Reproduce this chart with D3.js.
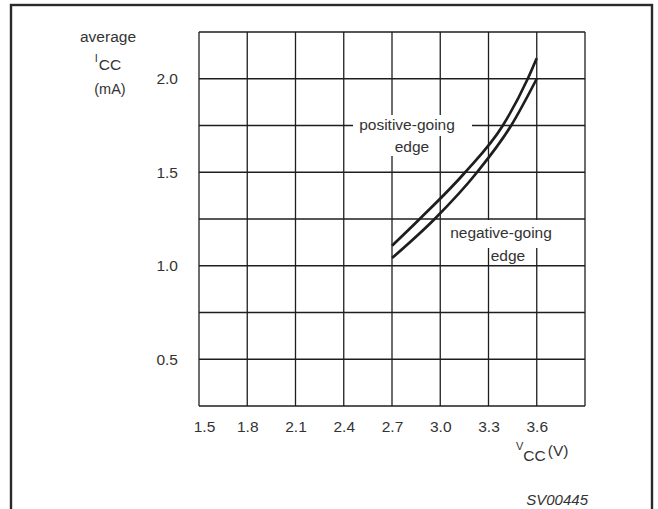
<!DOCTYPE html>
<html>
<head>
<meta charset="utf-8">
<script src="https://cdn.jsdelivr.net/npm/d3@7"></script>
<style>
  html, body { margin: 0; padding: 0; background: #fff; }
  svg { display: block; }
  text { font-family: "Liberation Sans", Arial, sans-serif; fill: #333; }
</style>
</head>
<body>
<svg id="chart" width="658" height="509"></svg>
<script>
// ---- data ----
const xTickValues = [1.5, 1.8, 2.1, 2.4, 2.7, 3.0, 3.3, 3.6];
const xGridValues = [1.5, 1.8, 2.1, 2.4, 2.7, 3.0, 3.3, 3.6, 3.9];
const yTickValues = [0.5, 1.0, 1.5, 2.0];
const yGridValues = [0.25, 0.5, 0.75, 1.0, 1.25, 1.5, 1.75, 2.0, 2.25];
const vccPositiveGoing = [2.7, 2.872, 3.155, 3.389, 3.544, 3.6];
const iccPositiveGoing = [1.107, 1.25, 1.5, 1.75, 2.0, 2.11];
const vccNegativeGoing = [2.7, 2.965, 3.229, 3.441, 3.6];
const iccNegativeGoing = [1.041, 1.25, 1.5, 1.75, 2.0];
const seriesLabels = ["positive-going", "negative-going"];

// ---- layout ----
const svg = d3.select("#chart");
const plot = { left: 199, right: 585, top: 32, bottom: 406 };
const x = d3.scaleLinear().domain([1.5, 3.9]).range([plot.left, plot.right]);
const y = d3.scaleLinear().domain([0.25, 2.25]).range([plot.bottom, plot.top]);
const ink = "#1e1e1e";
const fs = 15.5;

// outer frame (bottom edge lies outside the picture)
svg.append("rect")
  .attr("x", 11).attr("y", 5).attr("width", 641).attr("height", 540)
  .attr("fill", "none").attr("stroke", "#2a2a2a").attr("stroke-width", 2.4);

// grid
const grid = svg.append("g").attr("stroke", ink).attr("stroke-width", 1.3);
grid.selectAll("line.v").data(xGridValues).join("line")
  .attr("x1", d => x(d)).attr("x2", d => x(d))
  .attr("y1", plot.top).attr("y2", plot.bottom);
grid.selectAll("line.h").data(yGridValues).join("line")
  .attr("x1", plot.left).attr("x2", plot.right)
  .attr("y1", d => y(d)).attr("y2", d => y(d));

// axes (labels only)
const xAxis = svg.append("g")
  .attr("transform", `translate(0,${plot.bottom})`)
  .call(d3.axisBottom(x).tickValues(xTickValues).tickSize(0).tickPadding(15)
    .tickFormat(d3.format(".1f")));
const yAxis = svg.append("g")
  .attr("transform", `translate(${plot.left},0)`)
  .call(d3.axisLeft(y).tickValues(yTickValues).tickSize(0).tickPadding(21)
    .tickFormat(d3.format(".1f")));
[xAxis, yAxis].forEach(a => {
  a.select(".domain").remove();
  a.selectAll("text").attr("font-size", fs)
    .attr("font-family", '"Liberation Sans", Arial, sans-serif').attr("fill", "#333");
});
xAxis.selectAll(".tick").filter(d => d === 1.5).select("text").attr("dx", 5);

// white boxes behind curve labels (they interrupt the grid)
const boxes = svg.append("g").attr("fill", "#fff");
boxes.append("rect").attr("x", 353).attr("y", 115).attr("width", 119).attr("height", 21);
boxes.append("rect").attr("x", 391).attr("y", 136).attr("width", 46).attr("height", 20);
boxes.append("rect").attr("x", 446).attr("y", 220).attr("width", 110).attr("height", 28);

// curves
const line = d3.line().x(d => x(d[0])).y(d => y(d[1])).curve(d3.curveMonotoneX);
[[vccPositiveGoing, iccPositiveGoing], [vccNegativeGoing, iccNegativeGoing]].forEach(([xs, ys]) => {
  svg.append("path")
    .datum(xs.map((v, i) => [v, ys[i]]))
    .attr("d", line)
    .attr("fill", "none").attr("stroke", ink).attr("stroke-width", 2.7)
    .attr("stroke-linecap", "butt");
});

// curve labels
const lab = svg.append("g").attr("font-size", fs).attr("text-anchor", "middle");
lab.append("text").attr("x", 407).attr("y", 130).text(seriesLabels[0]);
lab.append("text").attr("x", 412).attr("y", 152).text("edge");
lab.append("text").attr("x", 501).attr("y", 238).text(seriesLabels[1]);
lab.append("text").attr("x", 508).attr("y", 261).text("edge");

// y title
const yt = svg.append("g").attr("text-anchor", "middle");
yt.append("text").attr("x", 108).attr("y", 42).attr("font-size", fs).text("average");
const icc = yt.append("text").attr("x", 108).attr("y", 70).attr("font-size", fs);
icc.append("tspan").attr("font-size", 11).attr("dy", -8).text("I");
icc.append("tspan").attr("dy", 8).attr("dx", 1).text("CC");
yt.append("text").attr("x", 110).attr("y", 94).attr("font-size", 14.5).text("(mA)");

// x title
const xt = svg.append("text").attr("x", 516).attr("y", 461).attr("font-size", fs);
xt.append("tspan").attr("font-size", 11).attr("dy", -11).text("V");
xt.append("tspan").attr("dy", 11).text("CC");
xt.append("tspan").attr("dy", -5).attr("dx", 2).text("(V)");

// figure code
svg.append("text").attr("x", 588).attr("y", 505).attr("text-anchor", "end")
  .attr("font-size", 15).attr("font-style", "italic").text("SV00445");
</script>
</body>
</html>
